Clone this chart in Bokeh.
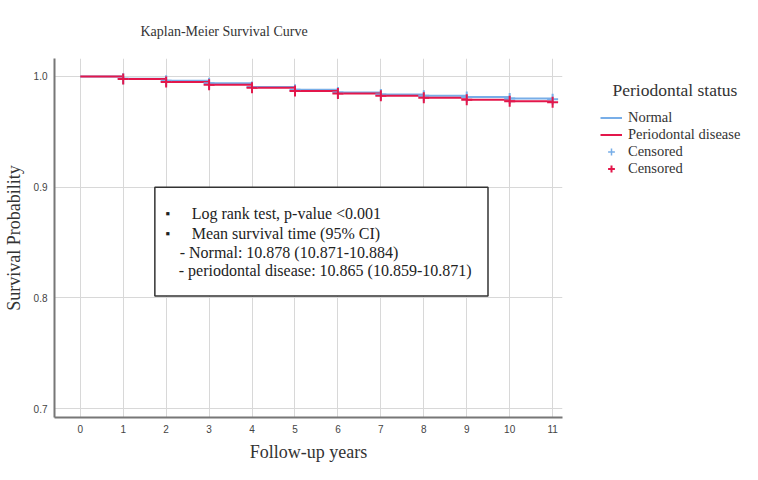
from bokeh.plotting import figure
from bokeh.layouts import row
from bokeh.models import (Range1d, FixedTicker, PrintfTickFormatter, Legend, LegendItem,
                          BoxAnnotation, Label, Title)
from bokeh.embed import file_html
from bokeh.resources import INLINE

# ---- data ----
years = [0, 1, 2, 3, 4, 5, 6, 7, 8, 9, 10, 11]
normal_surv = [1.0, 0.9980, 0.9962, 0.9938, 0.9904, 0.9880, 0.9856, 0.9838, 0.9826, 0.9814, 0.9800, 0.9795]
perio_surv = [1.0, 0.9976, 0.9950, 0.9926, 0.9898, 0.9868, 0.9847, 0.9826, 0.9808, 0.9790, 0.9775, 0.9766]
censor_years = years[1:]
normal_censor = normal_surv[1:]
perio_censor = perio_surv[1:]
y_ticks = [0.7, 0.8, 0.9, 1.0]
x_ticks = years

title_text = "Kaplan-Meier Survival Curve"
x_label = "Follow-up years"
y_label = "Survival Probability"
legend_title = "Periodontal status"
group_names = ["Normal", "Periodontal disease"]
censor_name = "Censored"
box_lines = ["Log rank test, p-value <0.001",
             "Mean survival time (95% CI)",
             "- Normal: 10.878 (10.871-10.884)",
             "- periodontal disease: 10.865 (10.859-10.871)"]

BLUE = "#78aee8"
RED = "#e3174b"
SERIF = "Liberation Serif"
SANS = "Liberation Sans"

p = figure(width=570, height=464, output_backend="svg", toolbar_location=None,
           x_range=Range1d(-0.6, 11.23), y_range=Range1d(0.692, 1.0162),
           min_border_left=51, min_border_right=8, min_border_top=58, min_border_bottom=46,
           title=None)
p.outline_line_color = None
p.background_fill_color = "white"
p.border_fill_color = "white"

main_x = p.below[0]
main_y = p.left[0]

p.add_layout(Title(text=title_text, text_font=SERIF, text_font_size="14px",
                   text_font_style="normal", text_color="#333333", align="left",
                   offset=86, vertical_align="bottom", standoff=40), "above")

main_x.ticker = FixedTicker(ticks=x_ticks)
main_y.ticker = FixedTicker(ticks=y_ticks)
main_y.formatter = PrintfTickFormatter(format="%.1f")
for ax in (main_x, main_y):
    ax.major_tick_line_color = None
    ax.minor_tick_line_color = None
    ax.major_tick_out = 0
    ax.major_tick_in = 0
    ax.minor_tick_out = 0
    ax.minor_tick_in = 0
    ax.axis_line_color = "#777777"
    ax.axis_line_width = 2
    ax.major_label_text_font = SANS
    ax.major_label_text_font_size = "10px"
    ax.major_label_text_color = "#444444"
    ax.axis_label_text_font = SERIF
    ax.axis_label_text_font_size = "18px"
    ax.axis_label_text_font_style = "normal"
    ax.axis_label_text_color = "#333333"
main_x.axis_label = x_label
main_y.axis_label = y_label
main_x.major_label_standoff = 7
main_x.axis_label_standoff = 6
main_y.major_label_standoff = 7
main_y.axis_label_standoff = 7

p.xgrid.ticker = FixedTicker(ticks=x_ticks)
p.ygrid.ticker = FixedTicker(ticks=y_ticks)
p.grid.grid_line_color = "#d8d8d8"
p.grid.grid_line_width = 1

p.step(x=years, y=normal_surv, mode="after", line_color=BLUE, line_width=2)
p.step(x=years, y=perio_surv, mode="after", line_color=RED, line_width=2)
p.scatter(x=censor_years, y=normal_censor, marker="cross", size=11,
          line_color=BLUE, line_width=2)
p.scatter(x=censor_years, y=perio_censor, marker="cross", size=11,
          line_color=RED, line_width=2)

# text box
box = BoxAnnotation(left=1.737, right=9.495, top=0.9, bottom=0.8018,
                    fill_color="white", fill_alpha=1.0,
                    line_color="#333333", line_alpha=1.0, line_width=1.5, level="overlay")
p.add_layout(box)
line_pos = [(2.594, 0.8766), (2.594, 0.8586), (2.316, 0.8414), (2.293, 0.8252)]
for (tx, ty), txt in zip(line_pos, box_lines):
    p.add_layout(Label(x=tx, y=ty, text=txt, text_font=SERIF, text_font_size="16px",
                       text_color="#222222", text_baseline="middle", level="overlay"))
for ty in (0.8766, 0.8586):
    p.add_layout(Label(x=2.038, y=ty, text="\u25aa", text_font=SANS, text_font_size="13px",
                       text_color="#222222", text_baseline="middle", text_align="center",
                       level="overlay"))

# ---- legend panel (separate figure) ----
q = figure(width=172, height=464, output_backend="svg", toolbar_location=None,
           x_range=Range1d(0, 1), y_range=Range1d(0, 1),
           x_axis_type=None, y_axis_type=None,
           min_border_left=0, min_border_right=0, min_border_top=0, min_border_bottom=0)
q.outline_line_color = None
q.grid.visible = False
q.border_fill_color = "white"
nan = float("nan")
l_n = q.step(x=[nan], y=[nan], line_color=BLUE, line_width=2)
l_p = q.step(x=[nan], y=[nan], line_color=RED, line_width=2)
l_cn = q.scatter(x=[nan], y=[nan], marker="cross", size=12, line_color=BLUE, line_width=1.5)
l_cp = q.scatter(x=[nan], y=[nan], marker="cross", size=12, line_color=RED, line_width=2)

q.add_layout(Label(x=42, y=328, x_units="screen", y_units="screen", text=legend_title,
                   text_font=SERIF, text_font_size="17.5px", text_color="#333333",
                   text_baseline="middle"))

legend = Legend(items=[LegendItem(label=group_names[0], renderers=[l_n]),
                       LegendItem(label=group_names[1], renderers=[l_p]),
                       LegendItem(label=censor_name, renderers=[l_cn]),
                       LegendItem(label=censor_name, renderers=[l_cp])],
                location=(30, 240),
                label_text_font=SERIF, label_text_font_size="14.5px", label_text_color="#333333",
                glyph_width=22, glyph_height=17, label_height=17, spacing=0,
                label_standoff=6, padding=0, margin=0,
                border_line_color=None, background_fill_alpha=0)
q.add_layout(legend)

layout = row(p, q)
open("out.html", "w").write(file_html(layout, INLINE))
